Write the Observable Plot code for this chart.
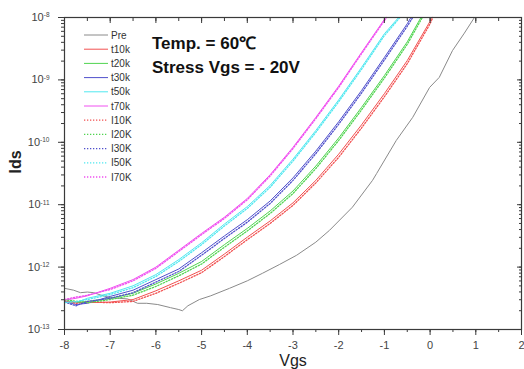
<!DOCTYPE html>
<html>
<head>
<meta charset="utf-8">
<script src="https://cdn.jsdelivr.net/npm/d3@7"></script>
<script src="https://cdn.jsdelivr.net/npm/@observablehq/plot@0.6"></script>
<style>
  html, body { margin: 0; padding: 0; background: #fff; }
  #chart { position: relative; width: 524px; height: 369px; }
</style>
</head>
<body>
<div id="chart"></div>
<script>
// ---- data (Vgs in V, values as log10(Ids / A)) ----
const seriesNames = ["Pre", "t10k", "t20k", "t30k", "t50k", "t70k", "I10K", "I20K", "I30K", "I50K", "I70K"];
const seriesColors = ["#8a8a8a", "#f25050", "#50d450", "#5050cc", "#50e8f0", "#f050f0",
                      "#f25050", "#50d450", "#5050cc", "#50e8f0", "#f050f0"];
const seriesDotted = [false, false, false, false, false, false, true, true, true, true, true];

const vgsPre = [-8,-7.8,-7.65,-7.5,-7.36,-7.2,-7,-6.8,-6.62,-6.4,-6.2,-5.96,-5.68,-5.5,-5.42,-5.3,-5.05,-4.8,-4.39,-4,-3.67,-3.3,-2.92,-2.5,-2.2,-1.7,-1.26,-1.17,-0.74,-0.38,-0.01,0.2,0.49,0.75,0.97];
const logPre = [-12.34,-12.37,-12.41,-12.4,-12.41,-12.45,-12.49,-12.5,-12.51,-12.58,-12.58,-12.6,-12.65,-12.68,-12.7,-12.62,-12.52,-12.46,-12.34,-12.22,-12.1,-11.96,-11.81,-11.6,-11.41,-11.04,-10.61,-10.5,-9.97,-9.6,-9.12,-8.96,-8.53,-8.25,-8.0];

const vgsT10k = [-8,-7.75,-7.5,-7,-6.5,-6,-5.5,-5,-4.5,-4,-3.5,-3,-2.5,-2,-1.5,-1,-0.5,0,0.03];
const logT10k = [-12.55,-12.56,-12.57,-12.56,-12.52,-12.38,-12.22,-12.05,-11.79,-11.52,-11.26,-10.97,-10.61,-10.19,-9.72,-9.22,-8.69,-8.06,-8.0];
const vgsT20k = [-8,-7.75,-7.5,-7,-6.5,-6,-5.5,-5,-4.5,-4,-3.5,-3,-2.5,-2,-1.5,-1,-0.5,-0.2];
const logT20k = [-12.54,-12.57,-12.55,-12.5,-12.42,-12.27,-12.1,-11.91,-11.64,-11.38,-11.1,-10.78,-10.38,-9.93,-9.44,-8.93,-8.39,-8.0];
const vgsT30k = [-8,-7.75,-7.5,-7,-6.5,-6,-5.5,-5,-4.5,-4,-3.5,-3,-2.5,-2,-1.5,-1,-0.5,-0.42];
const logT30k = [-12.55,-12.6,-12.58,-12.47,-12.37,-12.2,-12.03,-11.77,-11.5,-11.24,-10.94,-10.57,-10.14,-9.67,-9.17,-8.64,-8.1,-8.0];
const vgsT50k = [-8,-7.75,-7.5,-7,-6.5,-6,-5.5,-5,-4.5,-4,-3.5,-3,-2.5,-2,-1.5,-1,-0.69];
const logT50k = [-12.55,-12.57,-12.5,-12.42,-12.3,-12.12,-11.88,-11.61,-11.31,-11.03,-10.69,-10.27,-9.81,-9.32,-8.8,-8.26,-8.0];
const vgsT70k = [-8,-7.75,-7.5,-7,-6.5,-6,-5.5,-5,-4.5,-4,-3.5,-3,-2.5,-2,-1.5,-1,-0.97];
const logT70k = [-12.53,-12.5,-12.46,-12.34,-12.2,-12.0,-11.73,-11.46,-11.2,-10.9,-10.52,-10.08,-9.6,-9.1,-8.56,-8.03,-8.0];

const vgsI10K = [-8,-7.75,-7.5,-7,-6.5,-6,-5.5,-5,-4.5,-4,-3.5,-3,-2.5,-2,-1.5,-1,-0.5,0,0.06];
const logI10K = [-12.54,-12.58,-12.56,-12.57,-12.55,-12.42,-12.26,-12.09,-11.83,-11.56,-11.3,-11.01,-10.65,-10.24,-9.77,-9.27,-8.74,-8.1,-8.0];
const vgsI20K = [-8,-7.75,-7.5,-7,-6.5,-6,-5.5,-5,-4.5,-4,-3.5,-3,-2.5,-2,-1.5,-1,-0.5,-0.17];
const logI20K = [-12.52,-12.55,-12.57,-12.52,-12.45,-12.31,-12.14,-11.95,-11.68,-11.42,-11.14,-10.82,-10.42,-9.97,-9.48,-8.97,-8.43,-8.0];
const vgsI30K = [-8,-7.75,-7.5,-7,-6.5,-6,-5.5,-5,-4.5,-4,-3.5,-3,-2.5,-2,-1.5,-1,-0.5,-0.38];
const logI30K = [-12.56,-12.62,-12.55,-12.5,-12.41,-12.24,-12.07,-11.81,-11.54,-11.28,-10.98,-10.61,-10.18,-9.71,-9.21,-8.68,-8.14,-8.0];
const vgsI50K = [-8,-7.75,-7.5,-7,-6.5,-6,-5.5,-5,-4.5,-4,-3.5,-3,-2.5,-2,-1.5,-1,-0.66];
const logI50K = [-12.57,-12.55,-12.52,-12.44,-12.33,-12.15,-11.91,-11.64,-11.34,-11.06,-10.72,-10.3,-9.84,-9.35,-8.83,-8.29,-8.0];
const vgsI70K = [-8,-7.75,-7.5,-7,-6.5,-6,-5.5,-5,-4.5,-4,-3.5,-3,-2.5,-2,-1.5,-1,-0.95];
const logI70K = [-12.52,-12.48,-12.45,-12.36,-12.22,-12.02,-11.75,-11.48,-11.22,-10.92,-10.54,-10.1,-9.62,-9.12,-8.58,-8.05,-8.0];

const xTicks = [-8,-7,-6,-5,-4,-3,-2,-1,0,1,2];
const yTicks = [1e-13,1e-12,1e-11,1e-10,1e-9,1e-8];

const annotation1 = "Temp. = 60\u2103";
const annotation2 = "Stress Vgs = - 20V";
const xLabel = "Vgs";
const yLabel = "Ids";

// ---- build table ----
const vgsList = [vgsPre, vgsT10k, vgsT20k, vgsT30k, vgsT50k, vgsT70k, vgsI10K, vgsI20K, vgsI30K, vgsI50K, vgsI70K];
const logList = [logPre, logT10k, logT20k, logT30k, logT50k, logT70k, logI10K, logI20K, logI30K, logI50K, logI70K];
const rows = [];
seriesNames.forEach((name, s) => {
  vgsList[s].forEach((v, i) => rows.push({series: name, vgs: v, ids: Math.pow(10, logList[s][i])}));
});

const font = "'Liberation Sans', Arial, sans-serif";
const axisColor = "#3a3a3a";

const lineMarks = seriesNames.map((name, s) =>
  Plot.line(rows.filter(d => d.series === name), {
    x: "vgs", y: "ids",
    stroke: seriesColors[s],
    strokeWidth: seriesDotted[s] ? 1.3 : 1,
    strokeDasharray: seriesDotted[s] ? "1.3,1.7" : null,
    curve: "linear"
  })
);

const plot = Plot.plot({
  width: 524, height: 369,
  marginLeft: 64, marginRight: 3, marginTop: 17, marginBottom: 40,
  style: {fontFamily: font, fontSize: "11px", color: "#444", background: "white", overflow: "visible"},
  x: {domain: [-8, 2]},
  y: {type: "log", domain: [1e-13, 1e-8]},
  marks: [
    ...lineMarks,
    Plot.frame({stroke: axisColor, strokeWidth: 1.2}),
    // bottom axis
    Plot.axisX({ticks: xTicks, tickSize: 6, tickPadding: 6, tickFormat: d => String(d), label: null, stroke: axisColor, fontSize: 11}),
    Plot.axisX({ticks: 20, tickSize: 3, text: null, label: null, stroke: axisColor}),
    // top axis (inward ticks)
    Plot.axisX({anchor: "top", ticks: xTicks, tickSize: 5, dy: 5, text: null, label: null, stroke: axisColor}),
    Plot.axisX({anchor: "top", ticks: 20, tickSize: 3, dy: 3, text: null, label: null, stroke: axisColor}),
    // left axis
    Plot.axisY({ticks: yTicks, tickSize: 6, tickPadding: 9, tickFormat: d => "10|" + Math.round(Math.log10(d)), label: null, stroke: axisColor, fontSize: 11}),
    Plot.axisY({ticks: 60, tickSize: 3, text: null, label: null, stroke: axisColor}),
    // right axis (inward ticks)
    Plot.axisY({anchor: "right", ticks: yTicks, tickSize: 5, dx: -5, text: null, label: null, stroke: axisColor}),
    Plot.axisY({anchor: "right", ticks: 60, tickSize: 3, dx: -3, text: null, label: null, stroke: axisColor}),
    // axis titles
    Plot.text([xLabel], {frameAnchor: "bottom", dy: 36, fontSize: 16, fill: "#222", fontFamily: font}),
    Plot.text([yLabel], {frameAnchor: "left", dx: -49, rotate: -90, fontSize: 16, fontWeight: "bold", fill: "#222", fontFamily: font})
  ]
});

document.getElementById("chart").appendChild(plot);

// superscript exponents on y tick labels
const svg = d3.select(plot);
svg.selectAll("g[aria-label='y-axis tick label'] text").each(function() {
  const t = d3.select(this);
  const parts = t.text().split("|");
  if (parts.length !== 2) return;
  t.text("");
  t.append("tspan").text(parts[0]);
  t.append("tspan").attr("dy", "-0.55em").attr("font-size", "6.5px").text(parts[1]);
});

// legend inside the plot area
const legend = svg.append("g").attr("font-family", font).attr("font-size", 10).attr("fill", "#333").attr("text-anchor", "start");
seriesNames.forEach((name, i) => {
  const y = 35 + i * 14.2;
  legend.append("line")
    .attr("x1", 84).attr("x2", 108).attr("y1", y).attr("y2", y)
    .attr("stroke", seriesColors[i])
    .attr("stroke-width", seriesDotted[i] ? 1.3 : 1)
    .attr("stroke-dasharray", seriesDotted[i] ? "1.3,1.7" : null);
  legend.append("text").attr("x", 111).attr("y", y).attr("dy", "0.35em").attr("text-anchor", "start").text(name);
});

// annotation
const ann = svg.append("g").attr("font-family", font).attr("font-size", 17).attr("font-weight", "bold").attr("fill", "#111").attr("text-anchor", "start");
ann.append("text").attr("x", 152).attr("y", 49).attr("text-anchor", "start").text(annotation1);
ann.append("text").attr("x", 152).attr("y", 73).attr("text-anchor", "start").text(annotation2);
</script>
</body>
</html>
